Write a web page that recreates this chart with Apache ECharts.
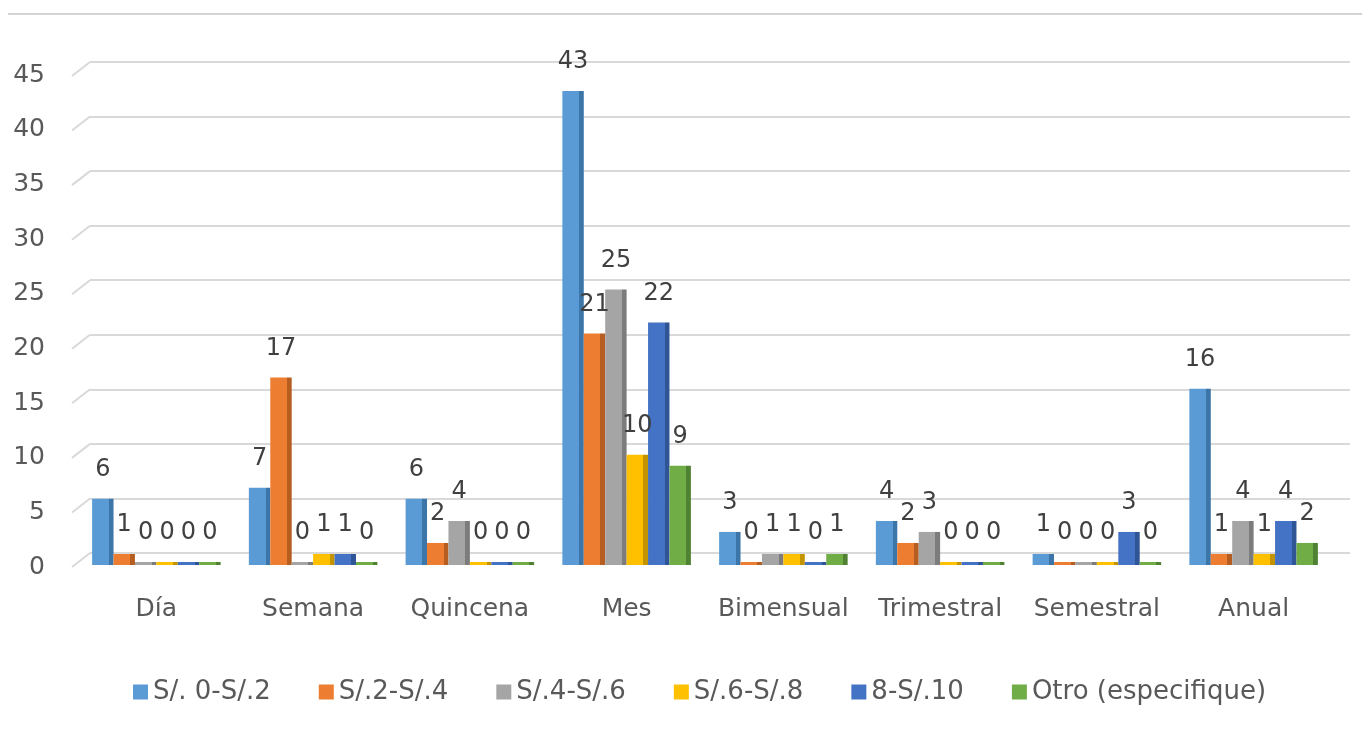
<!DOCTYPE html>
<html><head><meta charset="utf-8">
<script src="https://cdn.jsdelivr.net/npm/echarts@6/dist/echarts.min.js"></script>
<style>html,body{margin:0;padding:0;background:#fff}#c{width:1362px;height:736px}</style>
</head><body><div id="c"></div>
<script>
const categories = ['Día','Semana','Quincena','Mes','Bimensual','Trimestral','Semestral','Anual'];
const seriesNames = ['S/. 0-S/.2','S/.2-S/.4','S/.4-S/.6','S/.6-S/.8','8-S/.10','Otro (especifique)'];
const s1 = [6, 7, 6, 43, 3, 4, 1, 16];
const s2 = [1, 17, 2, 21, 0, 2, 0, 1];
const s3 = [0, 0, 4, 25, 1, 3, 0, 4];
const s4 = [0, 1, 0, 10, 1, 0, 0, 1];
const s5 = [0, 1, 0, 22, 0, 0, 3, 4];
const s6 = [0, 0, 0, 9, 1, 0, 0, 2];
const yTicks = [0, 5, 10, 15, 20, 25, 30, 35, 40, 45];

const colors = ['#5B9BD5','#ED7D31','#A5A5A5','#FFC000','#4472C4','#70AD47'];
const darks  = ['#3C75A8','#B65E22','#7C7C7C','#C49300','#2F5597','#4F8232'];
const font = '"DejaVu Sans", sans-serif';
const allData = [s1, s2, s3, s4, s5, s6];

function grad(i){
  return {type:'linear',x:0,y:0,x2:1,y2:0,colorStops:[
    {offset:0,color:colors[i]},{offset:0.78,color:colors[i]},
    {offset:0.78,color:darks[i]},{offset:1,color:darks[i]}]};
}

const chart = echarts.init(document.getElementById('c'), null, {renderer:'canvas'});
const series = allData.map((d,i)=>({
  name: seriesNames[i], type:'bar', xAxisIndex:1, yAxisIndex:1,
  data: d, barGap:'0%', barCategoryGap:'18%', barMinHeight:3,
  itemStyle:{color:grad(i)},
  label:{show:true, position:'top', distance:17, color:'#404040', fontSize:24, fontFamily:font},
  z:5
}));
// slanted grid connectors (front -> back wall)
series.push({
  type:'custom', xAxisIndex:0, yAxisIndex:0, silent:true, z:1,
  data: yTicks.map(v=>[0,v]),
  renderItem:function(params, api){
    const p = api.coord([0, api.value(1)]);
    const x0 = params.coordSys.x;
    return {type:'line', shape:{x1:x0-18, y1:p[1]+14, x2:x0, y2:p[1]},
      style:{stroke:'#d9d9d9', lineWidth:2}};
  }
});

chart.setOption({
  animation:false,
  color: colors,
  graphic:[{type:'line', shape:{x1:8,y1:14,x2:1362,y2:14}, style:{stroke:'#d4d4d4', lineWidth:2}}],
  legend:{
    data: seriesNames.map((n,i)=>({name:n, itemStyle:{color:colors[i]}})),
    left:128, top:674, itemWidth:15, itemHeight:15, itemGap:48,
    icon:'rect', textStyle:{color:'#595959', fontSize:26, fontFamily:font}
  },
  grid:[
    {left:90, right:12, top:62, bottom:183},
    {left:78, right:30, top:69, bottom:171},
    {left:78, right:30, top:75, bottom:169}
  ],
  xAxis:[
    {type:'category', gridIndex:0, data:categories, show:false},
    {type:'category', gridIndex:1, data:categories,
      axisLine:{show:false}, axisTick:{show:false},
      axisLabel:{color:'#595959', fontSize:25, fontFamily:font, margin:32, interval:0}},
    {type:'category', gridIndex:2, data:categories, show:false}
  ],
  yAxis:[
    {type:'value', gridIndex:0, min:0, max:45, interval:5,
      axisLabel:{show:false}, axisLine:{show:false}, axisTick:{show:false},
      splitLine:{lineStyle:{color:'#d9d9d9', width:2}}},
    {type:'value', gridIndex:1, min:0, max:45, interval:5, show:false, splitLine:{show:false}},
    {type:'value', gridIndex:2, min:0, max:45, interval:5,
      axisLine:{show:false}, axisTick:{show:false}, splitLine:{show:false},
      axisLabel:{color:'#595959', fontSize:25, fontFamily:font, margin:33}}
  ],
  series: series
});
</script></body></html>
